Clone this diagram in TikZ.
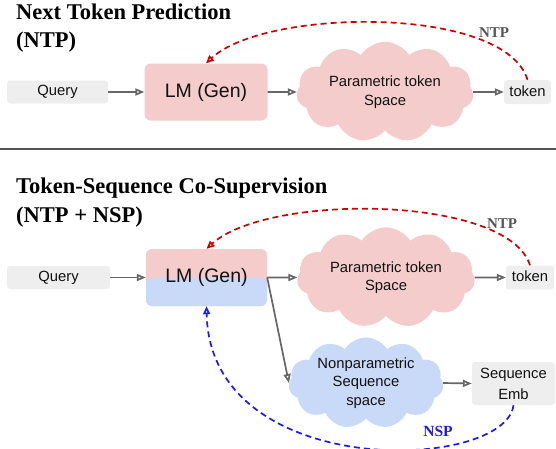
\documentclass[tikz,border=0pt]{standalone}
\usepackage{fontspec}
\setmainfont{Liberation Serif}
\setsansfont{Liberation Sans}
\usetikzlibrary{arrows.meta,shapes.symbols}
\definecolor{pinkf}{HTML}{F4CCCC}
\definecolor{bluef}{HTML}{C9DAF8}
\definecolor{grayf}{HTML}{EEEEEE}
\definecolor{arrowc}{HTML}{666666}
\definecolor{ntpred}{HTML}{CC0000}
\definecolor{nspblue}{HTML}{1A1AEE}
\definecolor{txt}{HTML}{111111}
\definecolor{sepc}{HTML}{555555}
\newcommand{\upbit}[1]{\raisebox{2.5pt}{#1}}
\begin{document}
\begin{tikzpicture}[x=1pt,y=-1pt,
  lbl/.style={font=\sffamily\fontsize{14.8}{18.5}\selectfont, text=txt, align=center},
  graybox/.style={lbl, fill=grayf, rounded corners=3pt, inner sep=0pt},
  lmbox/.style={font=\sffamily\fontsize{19.5}{22}\selectfont, text=txt, fill=pinkf, rounded corners=6pt,
     minimum width=123pt, minimum height=57pt, inner sep=0pt},
  cloudnode/.style={lbl, cloud, cloud puffs=11, cloud puff arc=115, aspect=2, inner sep=0pt},
  titlefont/.style={font=\bfseries\fontsize{22.5}{26}\selectfont, text=black, anchor=base west, inner sep=0pt},
  flow/.style={draw=arrowc, line width=1.7pt, -{Triangle[open,length=9pt,width=7pt]}},
  ntpline/.style={draw=ntpred, line width=1.7pt, dash pattern=on 6pt off 4pt,
     -{Triangle[open,length=8pt,width=7pt]}},
  nspline/.style={draw=nspblue, line width=1.7pt, dash pattern=on 6pt off 4pt,
     -{Triangle[open,length=8pt,width=7pt]}},
  ntplabel/.style={font=\bfseries\fontsize{15}{18}\selectfont, text=sepc, inner sep=0pt},
  nsplabel/.style={font=\bfseries\fontsize{15.5}{18}\selectfont, text=nspblue, inner sep=0pt},
  sepline/.style={draw=sepc, line width=1.5pt}
]
\useasboundingbox (0,0) rectangle (556,448);

% ---------- top section ----------
\node[titlefont] (ti1a) at (16,19) {Next Token Prediction};
\node[titlefont] (ti1b) at (16,47) {(NTP)};

\node[graybox, minimum width=101pt, minimum height=23pt] (q1) at (57.5,92) {\upbit{Query}};
\node[lmbox] (l1) at (206,92) {LM (Gen)};
\node[cloudnode, fill=pinkf, minimum width=177pt, minimum height=87pt] (c1) at (385,92) {Parametric token\\Space};
\node[graybox, minimum width=47pt, minimum height=24pt] (t1) at (527.5,92) {\upbit{token}};

\draw[flow] (q1.east) -- (l1.west);
\draw[flow] (l1.east) -- (c1.west);
\draw[flow] (c1.east) -- (t1.west);
\draw[ntpline] (t1.north) .. controls (505,5) and (265,8) .. (l1.north);
\node[ntplabel] (ntp1) at (494,33) {NTP};

% separator
\coordinate (sepL) at (0,149);
\coordinate (sepR) at (556,149);
\draw[sepline] (sepL) -- (sepR);

% ---------- bottom section ----------
\node[titlefont] (ti2a) at (16,193) {Token-Sequence Co-Supervision};
\node[titlefont] (ti2b) at (16,222) {(NTP + NSP)};

\node[graybox, minimum width=103pt, minimum height=23pt] (q2) at (58.5,277.5) {\upbit{Query}};
\node[lmbox, minimum width=121pt,
  path picture={\fill[bluef] (path picture bounding box.west) rectangle (path picture bounding box.south east);}]
  (l2) at (206.5,277.5) {LM (Gen)};
\node[cloudnode, fill=pinkf, minimum width=178pt, minimum height=87pt] (c2) at (386,277.5) {Parametric token\\Space};
\node[graybox, minimum width=48pt, minimum height=24pt] (t2) at (530,277.5) {\upbit{token}};
\node[cloudnode, fill=bluef, minimum width=155pt, minimum height=88pt] (c3) at (366,383) {Nonparametric\\Sequence\\space};
\node[graybox, align=center, font=\sffamily\fontsize{14.8}{21}\selectfont, minimum width=83pt, minimum height=43pt] (se) at (513.5,383.5) {Sequence\\Emb};

\draw[flow] (q2.east) -- (l2.west);
\draw[flow] (l2.east) -- (c2.west);
\draw[flow] (c2.east) -- (t2.west);
\draw[flow] (l2.east) -- (c3.west);
\draw[flow] (c3.east) -- (se.west);
\draw[ntpline] (t2.north) .. controls (508,195) and (268,193) .. (l2.north);
\node[ntplabel] (ntp2) at (502,224) {NTP};
\draw[nspline] (se.south) .. controls (505,472) and (210,482) .. (l2.south);
\node[nsplabel] (nsp) at (438,431) {NSP};
\end{tikzpicture}
\end{document}
